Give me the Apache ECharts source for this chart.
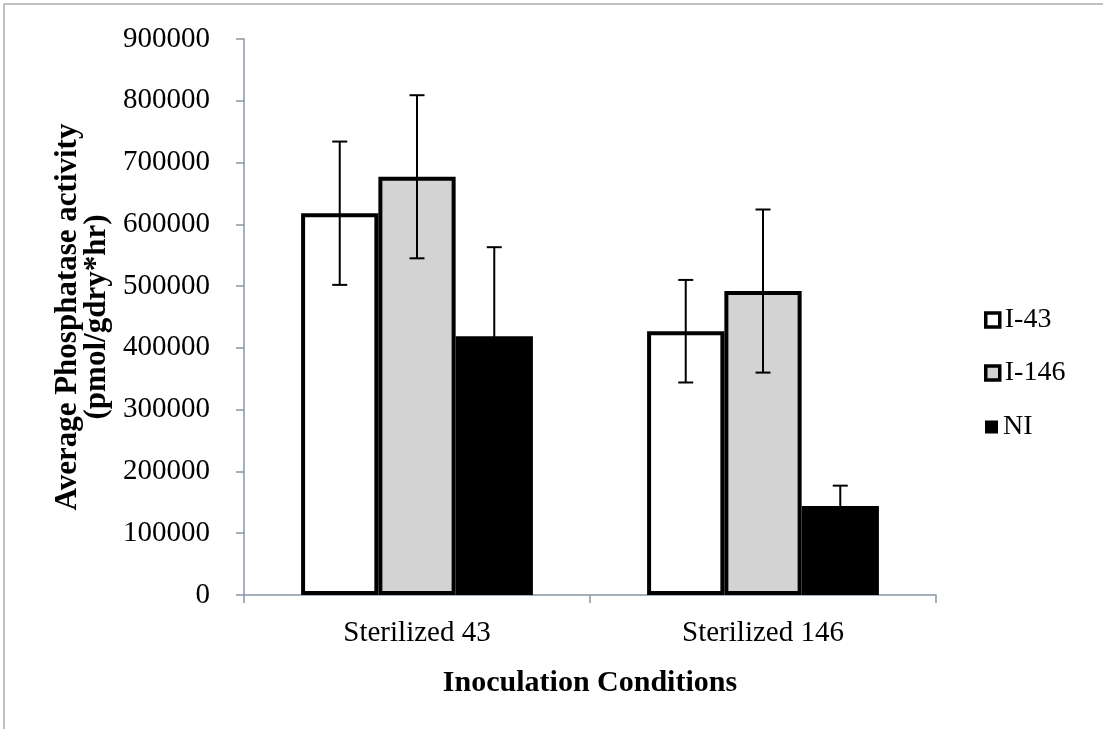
<!DOCTYPE html>
<html>
<head>
<meta charset="utf-8">
<script src="https://cdn.jsdelivr.net/npm/echarts@6/dist/echarts.min.js"></script>
<style>
  html, body { margin: 0; padding: 0; background: #fff; }
  #chart { width: 1103px; height: 729px; }
</style>
</head>
<body>
<div id="chart"></div>
<script>
// Phosphatase activity by inoculation condition, with ± error bars
const categories = ['Sterilized 43', 'Sterilized 146'];
const seriesNames = ['I-43', 'I-146', 'NI'];
const meanI43 = [618000, 427000];
const meanI146 = [677000, 492000];
const meanNI = [419000, 144000];
const errI43 = [116000, 83000];
const errI146 = [132000, 132000];
const errNI = [144000, 33000];
const yTicks = { min: 0, max: 900000, interval: 100000 };

const means = [meanI43, meanI146, meanNI];
const errs = [errI43, errI146, errNI];
const fills = ['#ffffff', '#d3d3d3', '#000000'];
const FONT = "'Liberation Serif', 'Times New Roman', serif";
const CAT_GAP = 0.33;

const chart = echarts.init(document.getElementById('chart'), null, { renderer: 'canvas' });

const barSeries = seriesNames.map((name, i) => ({
  name: name,
  type: 'bar',
  data: means[i],
  barGap: '0%',
  barCategoryGap: (CAT_GAP * 100) + '%',
  itemStyle: { color: fills[i], borderColor: '#000', borderWidth: 4 },
  z: 2
}));

const errorSeries = seriesNames.map((name, i) => ({
  name: name + ' error',
  type: 'custom',
  z: 5,
  silent: true,
  encode: { x: 0, y: 1 },
  data: categories.map((c, k) => [k, means[i][k], errs[i][k]]),
  renderItem: function (params, api) {
    const idx = api.value(0);
    const mean = api.value(1);
    const err = api.value(2);
    const catW = api.size([1, 0])[0];
    const barW = catW * (1 - CAT_GAP) / seriesNames.length;
    const center = api.coord([idx, mean]);
    const x = center[0] + (i - (seriesNames.length - 1) / 2) * barW;
    const top = api.coord([idx, mean + err])[1];
    const bot = api.coord([idx, mean - err])[1];
    const cap = 7.5;
    const style = { stroke: '#000', lineWidth: 2 };
    return {
      type: 'group',
      children: [
        { type: 'line', shape: { x1: x, y1: top, x2: x, y2: bot }, style: style },
        { type: 'line', shape: { x1: x - cap, y1: top, x2: x + cap, y2: top }, style: style },
        { type: 'line', shape: { x1: x - cap, y1: bot, x2: x + cap, y2: bot }, style: style }
      ]
    };
  }
}));

const legendTops = [306, 359, 413];
const legends = seriesNames.map((name, i) => {
  const isSolid = i === 2;
  return {
    data: [{
      name: name,
      icon: 'rect',
      itemStyle: isSolid
        ? { color: '#000', borderWidth: 0 }
        : { color: fills[i], borderColor: '#000', borderWidth: 3.5 }
    }],
    left: isSolid ? 985 : 984,
    top: legendTops[i],
    padding: 0,
    orient: 'vertical',
    itemWidth: isSolid ? 13 : 14,
    itemHeight: isSolid ? 13 : 14,
    selectedMode: false,
    textStyle: { fontFamily: FONT, fontSize: 28, color: '#000', padding: [0, 0, 0, 0] }
  };
});

const axisColor = '#8896a8';

chart.setOption({
  backgroundColor: '#ffffff',
  animation: false,
  grid: { left: 244, right: 167, top: 39, bottom: 134, containLabel: false },
  legend: legends,
  xAxis: {
    type: 'category',
    data: categories,
    name: 'Inoculation Conditions',
    nameLocation: 'middle',
    nameGap: 73,
    nameTextStyle: { fontFamily: FONT, fontSize: 30, fontWeight: 'bold', color: '#000' },
    axisLine: { lineStyle: { color: axisColor, width: 1.5 } },
    axisTick: { show: true, length: 8, lineStyle: { color: axisColor, width: 1.5 } },
    axisLabel: { fontFamily: FONT, fontSize: 29, color: '#000', margin: 24 },
    splitLine: { show: false }
  },
  yAxis: {
    type: 'value',
    min: yTicks.min,
    max: yTicks.max,
    interval: yTicks.interval,
    name: 'Average Phosphatase activity\n(pmol/gdry*hr)',
    nameLocation: 'middle',
    nameRotate: 90,
    nameGap: 117,
    nameTextStyle: { fontFamily: FONT, fontSize: 31, fontWeight: 'bold', color: '#000', lineHeight: 29 },
    axisLine: { show: true, lineStyle: { color: axisColor, width: 1.5 } },
    axisTick: { show: true, length: 8, lineStyle: { color: axisColor, width: 1.5 } },
    axisLabel: {
      fontFamily: FONT, fontSize: 29, color: '#000', margin: 34,
      formatter: function (v) { return String(v); }
    },
    splitLine: { show: false }
  },
  graphic: [{
    type: 'rect',
    shape: { x: 4, y: 4, width: 1120, height: 760 },
    style: { fill: 'none', stroke: '#a9adb3', lineWidth: 1.5 },
    silent: true,
    z: -1
  }],
  series: barSeries.concat(errorSeries)
});
</script>
</body>
</html>
